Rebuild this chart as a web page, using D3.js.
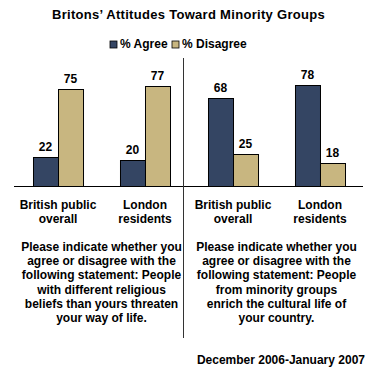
<!DOCTYPE html>
<html>
<head>
<meta charset="utf-8">
<script src="https://cdn.jsdelivr.net/npm/d3@7"></script>
<style>
  body { margin: 0; background: #fff; }
  svg text { font-family: "Liberation Sans", Arial, sans-serif; font-weight: bold; fill: #000; }
</style>
</head>
<body>
<div id="chart"></div>
<script>
// data
var categories = ["British public overall", "London residents"];
var categoryLines = [["British public", "overall"], ["London", "residents"]];
var series = ["% Agree", "% Disagree"];
var colors = ["#344563", "#c8b680"];
// panel 1: religious beliefs threaten way of life; panel 2: minorities enrich culture
var agree1 = [22, 20];
var disagree1 = [75, 77];
var agree2 = [68, 78];
var disagree2 = [25, 18];
var questions = [
    ["Please indicate whether you", "agree or disagree with the", "following statement: People",
     "with different religious", "beliefs than yours threaten", "your way of life."],
    ["Please indicate whether you", "agree or disagree with the", "following statement: People",
     "from minority groups", "enrich the cultural life of", "your country."]
];
var title = "Britons\u2019 Attitudes Toward Minority Groups";
var footnote = "December 2006-January 2007";

var svgWidth = 373;
var svgHeight = 369;
var baseY = 186;

var svg = d3.select("#chart")
    .append("svg")
    .attr("width", svgWidth)
    .attr("height", svgHeight);

var y = d3.scaleLinear().domain([0, 100]).range([baseY, 56]);

var panels = [
    { range: [14.5, 188.5], agree: agree1, disagree: disagree1, q: questions[0] },
    { range: [189.5, 363.5], agree: agree2, disagree: disagree2, q: questions[1] }
];

// title
svg.append("text")
    .attr("x", 188.5).attr("y", 19)
    .attr("text-anchor", "middle")
    .style("font-size", "13px")
    .style("letter-spacing", "0.3px")
    .text(title);

// legend
var legendX = [110, 172];
series.forEach(function(s, i) {
    svg.append("rect")
        .attr("x", legendX[i]).attr("y", 41)
        .attr("width", 7).attr("height", 7)
        .attr("fill", colors[i])
        .attr("stroke", "#000").attr("stroke-width", 0.8);
    svg.append("text")
        .attr("x", legendX[i] + 10).attr("y", 48)
        .style("font-size", "12px")
        .text(s);
});

panels.forEach(function(p) {
    var x0 = d3.scaleBand()
        .domain(categories)
        .range(p.range)
        .paddingInner(0.425)
        .paddingOuter(0.2126);
    var x1 = d3.scaleBand()
        .domain(series)
        .range([0, x0.bandwidth()]);

    var rows = categories.map(function(c, i) {
        return { cat: c, lines: categoryLines[i], vals: [p.agree[i], p.disagree[i]] };
    });

    var g = svg.append("g");
    var groups = g.selectAll("g.grp")
        .data(rows)
        .enter().append("g")
        .attr("transform", d => `translate(${x0(d.cat)},0)`);

    groups.selectAll("rect")
        .data(d => d.vals.map((v, j) => ({ s: series[j], v: v, c: colors[j] })))
        .enter().append("rect")
        .attr("x", d => x1(d.s) + 0.5)
        .attr("y", d => Math.round(y(d.v)) + 0.5)
        .attr("width", x1.bandwidth())
        .attr("height", d => baseY - Math.round(y(d.v)))
        .attr("fill", d => d.c)
        .attr("stroke", "#000")
        .attr("stroke-width", 1);

    groups.selectAll("text.val")
        .data(d => d.vals.map((v, j) => ({ s: series[j], v: v })))
        .enter().append("text")
        .attr("class", "val")
        .attr("x", d => x1(d.s) + x1.bandwidth() / 2)
        .attr("y", d => y(d.v) - 6)
        .attr("text-anchor", "middle")
        .style("font-size", "12px")
        .text(d => d.v);

    // category labels
    groups.each(function(d) {
        var t = d3.select(this).append("text")
            .attr("text-anchor", "middle")
            .style("font-size", "12px");
        d.lines.forEach(function(l, k) {
            t.append("tspan")
                .attr("x", x0.bandwidth() / 2)
                .attr("y", 209 + k * 14)
                .text(l);
        });
    });

    // question text
    var cx = (p.range[0] + p.range[1]) / 2;
    var qt = g.append("text")
        .attr("text-anchor", "middle")
        .style("font-size", "12px");
    p.q.forEach(function(l, k) {
        qt.append("tspan")
            .attr("x", cx)
            .attr("y", 251 + k * 14.2)
            .text(l);
    });
});

// baseline
svg.append("line")
    .attr("x1", 14).attr("x2", 363)
    .attr("y1", baseY + 0.5).attr("y2", baseY + 0.5)
    .attr("stroke", "#000");

// divider
svg.append("line")
    .attr("x1", 183.5).attr("x2", 183.5)
    .attr("y1", 58).attr("y2", 338)
    .attr("stroke", "#333");

// footnote
svg.append("text")
    .attr("x", 365).attr("y", 364)
    .attr("text-anchor", "end")
    .style("font-size", "12px")
    .text(footnote);
</script>
</body>
</html>
